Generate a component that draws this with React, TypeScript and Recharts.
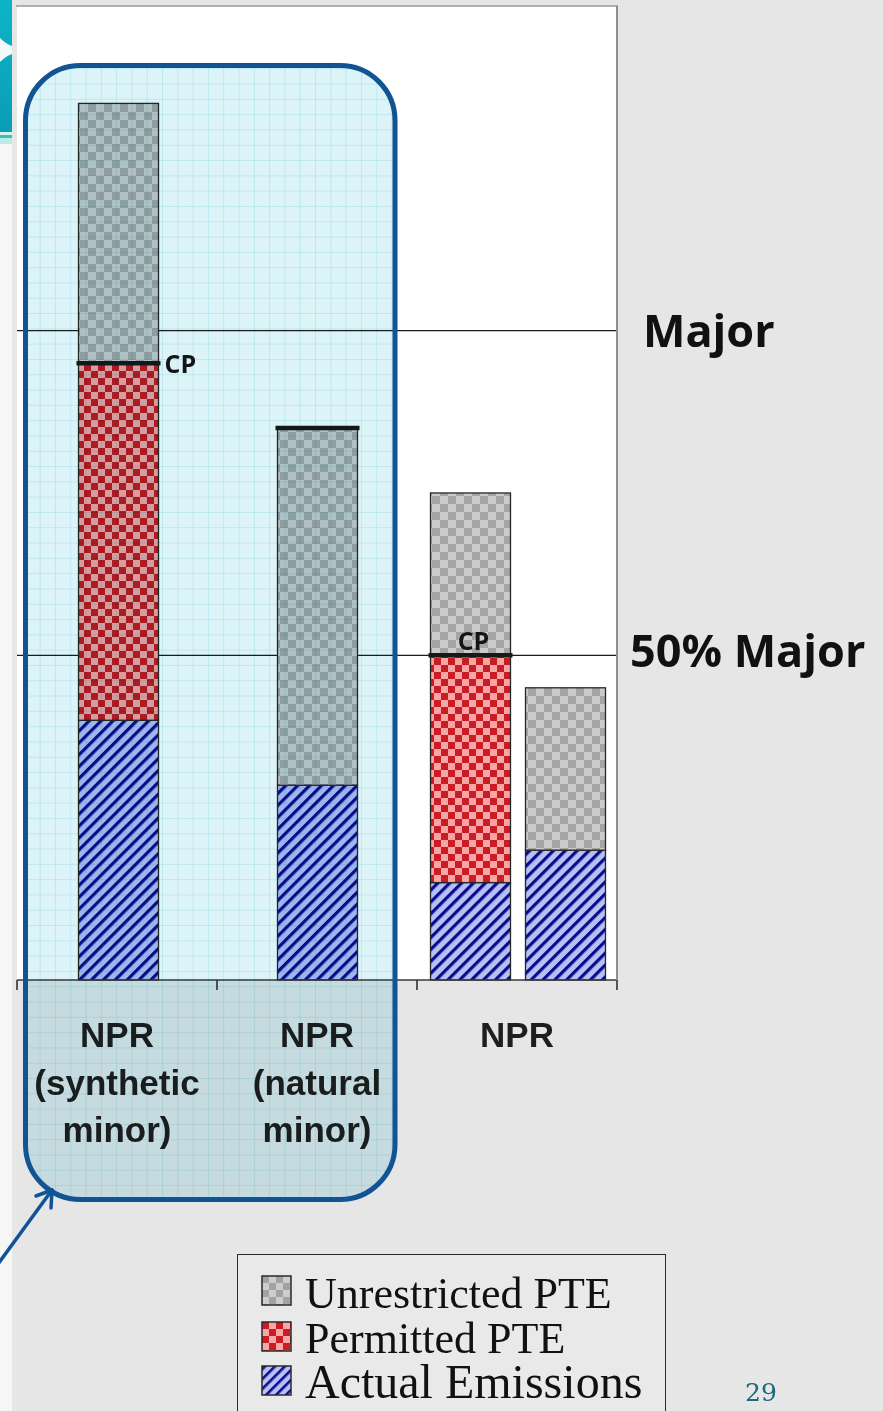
import React from 'react';
import { BarChart, Bar, XAxis, YAxis, CartesianGrid, ReferenceLine, Legend } from 'recharts';

// ---- chart values ---------------------------------------------------------
// Category groups along the bottom; each group spans 200 units of the x scale
const categoryLabels: string[][] = [
  ['NPR', '(synthetic', 'minor)'],
  ['NPR', '(natural', 'minor)'],
  ['NPR'],
];
// centre of every stacked bar on the 0–600 horizontal scale
const barCentres = [101, 300, 453, 548];
// stacked segments (relative scale where 100 = major source threshold)
const actualEmissions = [40, 30, 15, 20];
const permittedPTE = [55, 0, 35, 0];
const unrestrictedPTE = [40, 55, 25, 25];
// segment whose top edge carries the heavy cap line, and the tag written next to it
const capSegment: (string | null)[] = ['permitted', 'unrestricted', 'permitted', null];
const capTags = ['CP', '', 'CP', ''];
// threshold lines
const thresholdValues = [100, 50];
const thresholdNames = ['Major', '50% Major'];
const seriesNames: Record<string, string> = {
  actual: 'Actual Emissions',
  permitted: 'Permitted PTE',
  unrestricted: 'Unrestricted PTE',
};

const stackOrder = ['actual', 'permitted', 'unrestricted'];
const valuesBy: Record<string, number[]> = {
  actual: actualEmissions,
  permitted: permittedPTE,
  unrestricted: unrestrictedPTE,
};

const data = barCentres.map((x, i) => ({
  x,
  actual: actualEmissions[i],
  permitted: permittedPTE[i],
  unrestricted: unrestrictedPTE[i],
}));

// ---- layout -------------------------------------------------------------------
const W = 883;
const H = 1411;
const PLOT = { left: 17, right: 617, top: 6, bottom: 980 };
const XAXIS_H = 200;
const labelNudge = [
  { dx: 26, dy: 16 },
  { dx: 13, dy: 12 },
];

const patternFor: Record<string, string> = {
  actual: 'hatchActual',
  permitted: 'checkPermitted',
  unrestricted: 'checkUnrestricted',
};

// The cap line is drawn by the segment stacked directly above the capped one
// (so nothing paints over it); a capped top segment draws its own.
const capOwner = (i: number): string | null => {
  const c = capSegment[i];
  if (!c) return null;
  const pos = stackOrder.indexOf(c);
  for (let j = pos + 1; j < stackOrder.length; j++) {
    if (valuesBy[stackOrder[j]][i] > 0) return stackOrder[j];
  }
  return c;
};

// Bar segment with pattern fill, optional heavy cap line and tag
const makeSegment = (key: string) => (props: any) => {
  const { x, y, width, height } = props;
  let index: number = props.index;
  if (props.payload && typeof props.payload.x === 'number') index = barCentres.indexOf(props.payload.x);
  if (!height || height <= 0 || !width) return <g />;
  const owner = capOwner(index) === key;
  const capY = owner ? (capSegment[index] === key ? y : y + height) : 0;
  const tag = owner ? capTags[index] : '';
  // tag goes beside the bar when there is free room to its right, above the line otherwise
  const next = barCentres[index + 1];
  const beside = next === undefined ? false : next - barCentres[index] > 150;
  return (
    <g>
      <rect x={x} y={y} width={width} height={height} fill={`url(#${patternFor[key]})`} stroke="#262626" strokeWidth={1.3} />
      {owner && <line x1={x - 2} x2={x + width + 2} y1={capY} y2={capY} stroke="#141a1a" strokeWidth={4.5} />}
      {tag && (
        <text
          x={beside ? x + width + 6 : x + width / 2 + 3}
          y={beside ? capY + 10 : capY - 5}
          textAnchor={beside ? 'start' : 'middle'}
          fontFamily="'Open Sans', sans-serif"
          fontWeight={700}
          fontSize={25}
          fill="#151515"
        >
          {tag}
        </text>
      )}
    </g>
  );
};

const AxisTick = (props: any) => {
  const { x, y, payload } = props;
  const v = payload.value as number;
  if (v % 200 === 0) {
    return <line x1={x} x2={x} y1={y} y2={y + 10} stroke="#333" strokeWidth={1.6} />;
  }
  const lines = categoryLabels[Math.floor(v / 200)] || [];
  return (
    <text
      x={x}
      y={y}
      textAnchor="middle"
      fontFamily="'Liberation Sans', Arial, sans-serif"
      fontWeight={700}
      fontSize={35}
      fill="#1e1e1e"
    >
      {lines.map((t, i) => (
        <tspan key={i} x={x} y={y + 67 + i * 47.5}>
          {t}
        </tspan>
      ))}
    </text>
  );
};

const thresholdLabel = (i: number) => (p: any) => {
  const vb = p.viewBox || {};
  return (
    <text
      x={vb.x + vb.width + labelNudge[i].dx}
      y={vb.y + labelNudge[i].dy}
      fontFamily="'Open Sans', sans-serif"
      fontWeight={700}
      fontSize={45}
      fill="#111"
    >
      {thresholdNames[i]}
    </text>
  );
};

const legendOrder = ['unrestricted', 'permitted', 'actual'];

const LegendIcon = ({ k, y }: { k: string; y: number }) => (
  <rect x={25} y={y} width={29} height={29} fill={`url(#lg-${patternFor[k]})`} stroke="#2a2a2a" strokeWidth={1.5} />
);

const LegendBox = (props: any) => {
  const payload: any[] = props.payload || [];
  const names = legendOrder.map((k) => {
    const hit = payload.find((p) => p.dataKey === k);
    return hit ? String(hit.value) : seriesNames[k];
  });
  const rows = [
    { icon: 22, base: 54, size: 44 },
    { icon: 68, base: 99, size: 44 },
    { icon: 112, base: 144, size: 48 },
  ];
  return (
    <div
      style={{
        width: 429,
        height: 180,
        boxSizing: 'border-box',
        border: '1.5px solid #2b2b2b',
        background: '#e9e9e9',
      }}
    >
      <svg width={429} height={180} style={{ display: 'block', marginLeft: -1.5, marginTop: -1.5 }}>
        <defs>
          <pattern id="lg-checkUnrestricted" width={14} height={14} patternUnits="userSpaceOnUse" x={25} y={22}>
            <rect width={14} height={14} fill="#cdcdcd" />
            <rect width={7} height={7} fill="#a2a2a2" />
            <rect x={7} y={7} width={7} height={7} fill="#a2a2a2" />
          </pattern>
          <pattern id="lg-checkPermitted" width={14} height={14} patternUnits="userSpaceOnUse" x={25} y={68}>
            <rect width={14} height={14} fill="#f6a8a8" />
            <rect width={7} height={7} fill="#cc1b22" />
            <rect x={7} y={7} width={7} height={7} fill="#cc1b22" />
          </pattern>
          <pattern id="lg-hatchActual" width={7} height={7} patternUnits="userSpaceOnUse" patternTransform="rotate(45)">
            <rect width={7} height={7} fill="#b7c1f6" />
            <rect width={2.6} height={7} fill="#0c0c8c" />
          </pattern>
        </defs>
        {rows.map((r, i) => (
          <g key={legendOrder[i]}>
            <LegendIcon k={legendOrder[i]} y={r.icon} />
            <text x={68} y={r.base} fontFamily="'Liberation Serif', 'Times New Roman', serif" fontSize={r.size} fill="#111">
              {names[i]}
            </text>
          </g>
        ))}
      </svg>
    </div>
  );
};

// Highlight box around the two NPR minor-source groups
const HL = { x: 25.5, y: 65.5, w: 369.5, h: 1134, r: 55 };

export default function App() {
  return (
    <div
      style={{
        position: 'absolute',
        left: 0,
        top: 0,
        width: W,
        height: H,
        overflow: 'hidden',
        background: '#e6e6e6',
      }}
    >
      <div style={{ position: 'absolute', left: 0, top: 0 }}>
        <BarChart
          width={W}
          height={H}
          data={data}
          margin={{ top: PLOT.top, right: W - PLOT.right, left: PLOT.left, bottom: H - PLOT.bottom - XAXIS_H }}
        >
          <defs>
            <pattern id="checkUnrestricted" width={16} height={16} patternUnits="userSpaceOnUse">
              <rect width={16} height={16} fill="#cbcbcb" />
              <rect width={8} height={8} fill="#a5a5a5" />
              <rect x={8} y={8} width={8} height={8} fill="#a5a5a5" />
            </pattern>
            <pattern id="checkPermitted" width={14} height={14} patternUnits="userSpaceOnUse">
              <rect width={14} height={14} fill="#f6a6a6" />
              <rect width={7} height={7} fill="#c81d22" />
              <rect x={7} y={7} width={7} height={7} fill="#c81d22" />
            </pattern>
            <pattern id="hatchActual" width={8.4} height={8.4} patternUnits="userSpaceOnUse" patternTransform="rotate(45)">
              <rect width={8.4} height={8.4} fill="#b5c0f5" />
              <rect width={3.2} height={8.4} fill="#0b0b8a" />
            </pattern>
          </defs>
          <CartesianGrid vertical={false} horizontal={false} fill="#ffffff" fillOpacity={1} />
          <XAxis
            type="number"
            dataKey="x"
            domain={[0, 600]}
            ticks={[0, 100, 200, 300, 400, 500, 600]}
            interval={0}
            allowDataOverflow
            height={XAXIS_H}
            tickLine={false}
            tickSize={0}
            tickMargin={0}
            axisLine={{ stroke: '#3a3a3a', strokeWidth: 1.6 }}
            tick={<AxisTick />}
          />
          <YAxis
            type="number"
            domain={[0, 150]}
            ticks={thresholdValues}
            width={0}
            tick={false}
            tickLine={false}
            axisLine={{ stroke: '#9e9e9e', strokeWidth: 2 }}
          />
          {thresholdValues.map((v, i) => (
            <ReferenceLine
              key={v}
              y={v}
              stroke="#1c1c1c"
              strokeWidth={1.4}
              zIndex={-60}
              label={thresholdLabel(i)}
            />
          ))}
          <Bar dataKey="actual" name={seriesNames.actual} stackId="s" barSize={80} isAnimationActive={false} shape={makeSegment('actual')} />
          <Bar dataKey="permitted" name={seriesNames.permitted} stackId="s" barSize={80} isAnimationActive={false} shape={makeSegment('permitted')} />
          <Bar dataKey="unrestricted" name={seriesNames.unrestricted} stackId="s" barSize={80} isAnimationActive={false} shape={makeSegment('unrestricted')} />
          <Legend
            layout="horizontal"
            verticalAlign="middle"
            align="center"
            content={<LegendBox />}
            wrapperStyle={{ left: 237, top: 1254, width: 429, height: 180 }}
          />
        </BarChart>
      </div>

      {/* tinted graph-paper highlight, multiplied over the chart */}
      <svg
        width={W}
        height={H}
        style={{ position: 'absolute', left: 0, top: 0, mixBlendMode: 'multiply', pointerEvents: 'none' }}
      >
        <defs>
          <pattern id="graphPaper" width={15.3} height={15.3} patternUnits="userSpaceOnUse" x={10} y={8}>
            <rect width={15.3} height={15.3} fill="#dcf3f8" />
            <path d="M15.3 0 V15.3 M0 15.3 H15.3" stroke="#a2dce9" strokeWidth={1} />
          </pattern>
        </defs>
        <rect x={HL.x} y={HL.y} width={HL.w} height={HL.h} rx={HL.r} ry={HL.r} fill="url(#graphPaper)" />
      </svg>

      {/* slide furniture: frame, highlight outline, arrow, side strip, page number */}
      <svg width={W} height={H} style={{ position: 'absolute', left: 0, top: 0, pointerEvents: 'none' }}>
        <defs>
          <linearGradient id="tealBand" x1="0" y1="0" x2="0" y2="1">
            <stop offset="0" stopColor="#0db4c7" />
            <stop offset="1" stopColor="#0a9db6" />
          </linearGradient>
        </defs>
        <rect x={0} y={0} width={12} height={H} fill="#f6f6f6" />
        <rect x={0} y={0} width={12} height={132} fill="url(#tealBand)" />
        <path d="M0 38 Q6 44 12 46 L12 54 Q6 56 0 62 Z" fill="#f3f8f8" />
        <rect x={0} y={132} width={12} height={3} fill="#d6f1f1" />
        <rect x={0} y={135} width={12} height={3} fill="#35c6a3" />
        <rect x={0} y={138} width={12} height={6} fill="#bfe9ea" />

        <line x1={PLOT.left - 1} x2={PLOT.right + 1} y1={PLOT.top} y2={PLOT.top} stroke="#b0b0b0" strokeWidth={2} />
        <line x1={PLOT.right} x2={PLOT.right} y1={PLOT.top} y2={PLOT.bottom} stroke="#8e8e8e" strokeWidth={2} />

        <rect
          x={HL.x}
          y={HL.y}
          width={HL.w}
          height={HL.h}
          rx={HL.r}
          ry={HL.r}
          fill="none"
          stroke="#115393"
          strokeWidth={5}
        />
        <g stroke="#0f5496" strokeWidth={3.5} strokeLinecap="round" fill="none">
          <line x1={-2} y1={1264} x2={52} y2={1190} />
          <line x1={52} y1={1190} x2={36} y2={1196} />
          <line x1={52} y1={1190} x2={51} y2={1208} />
        </g>

        <text x={745} y={1401} fontFamily="'DejaVu Serif', serif" fontSize={25} fill="#1b6a7b">
          29
        </text>
      </svg>
    </div>
  );
}
